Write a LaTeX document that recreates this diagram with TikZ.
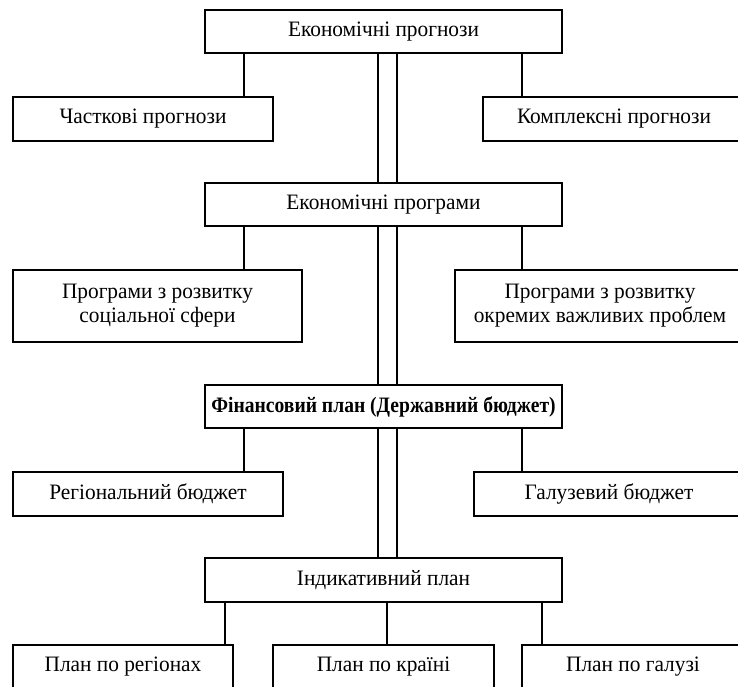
\documentclass[tikz,border=0pt]{standalone}
\usepackage{fontspec}
\setmainfont{Liberation Serif}[FakeStretch=0.97]
\begin{document}
\begin{tikzpicture}[x=1pt,y=-1pt,
  box/.style={draw, line width=1.4pt, inner sep=0pt, outer sep=0pt, align=center,
    font=\fontsize{22}{24}\selectfont},
  link/.style={line width=1.4pt}]
\useasboundingbox (0,0) rectangle (738,686);
\clip (0,0) rectangle (738,686);
% widths/heights in pt, centres given
\node[box, minimum width=357pt, minimum height=43pt] (e1) at (383.5,31.5) {Економічні прогнози};
\node[box, minimum width=260pt, minimum height=44pt] (cp) at (143,119) {Часткові прогнози};
\node[box, minimum width=262pt, minimum height=44pt] (kp) at (614,119) {Комплексні прогнози};
\node[box, minimum width=357pt, minimum height=43pt] (e2) at (383.5,204.5) {Економічні програми};
\node[box, minimum width=289pt, minimum height=72pt] (ps) at (157.5,306) {Програми з розвитку\\соціальної сфери};
\node[box, minimum width=290pt, minimum height=72pt] (po) at (600,306) {Програми з розвитку\\окремих важливих проблем};
\node[box, minimum width=357pt, minimum height=43pt, font=\fontsize{22}{24}\selectfont\bfseries] (fp) at (383.5,406.5) {\addfontfeature{FakeStretch=0.89}Фінансовий план (Державний бюджет)};
\node[box, minimum width=270pt, minimum height=44pt] (rb) at (148,494) {Регіональний бюджет};
\node[box, minimum width=270pt, minimum height=44pt] (gb) at (609,494) {Галузевий бюджет};
\node[box, minimum width=357pt, minimum height=44pt] (ip) at (383.5,580) {Індикативний план};
\node[box, minimum width=220pt, minimum height=44pt] (pr) at (123,667) {План по регіонах};
\node[box, minimum width=221pt, minimum height=44pt] (pk) at (383.5,667) {План по країні};
\node[box, minimum width=222pt, minimum height=44pt] (pg) at (633,667) {План по галузі};
% x positions of connectors
\coordinate (xL) at (244,0);
\coordinate (xR) at (522,0);
\coordinate (xA) at (378,0);
\coordinate (xB) at (397,0);
\coordinate (x1) at (225,0);
\coordinate (x2) at (387,0);
\coordinate (x3) at (542,0);
% branches
\draw[link] (e1.south -| xL) -- (cp.north -| xL);
\draw[link] (e1.south -| xR) -- (kp.north -| xR);
\draw[link] (e2.south -| xL) -- (ps.north -| xL);
\draw[link] (e2.south -| xR) -- (po.north -| xR);
\draw[link] (fp.south -| xL) -- (rb.north -| xL);
\draw[link] (fp.south -| xR) -- (gb.north -| xR);
\draw[link] (ip.south -| x1) -- (pr.north -| x1);
\draw[link] (ip.south -| x2) -- (pk.north -| x2);
\draw[link] (ip.south -| x3) -- (pg.north -| x3);
% double spine
\foreach \c in {xA,xB}{
  \draw[link] (e1.south -| \c) -- (e2.north -| \c);
  \draw[link] (e2.south -| \c) -- (fp.north -| \c);
  \draw[link] (fp.south -| \c) -- (ip.north -| \c);
}
\end{tikzpicture}
\end{document}
